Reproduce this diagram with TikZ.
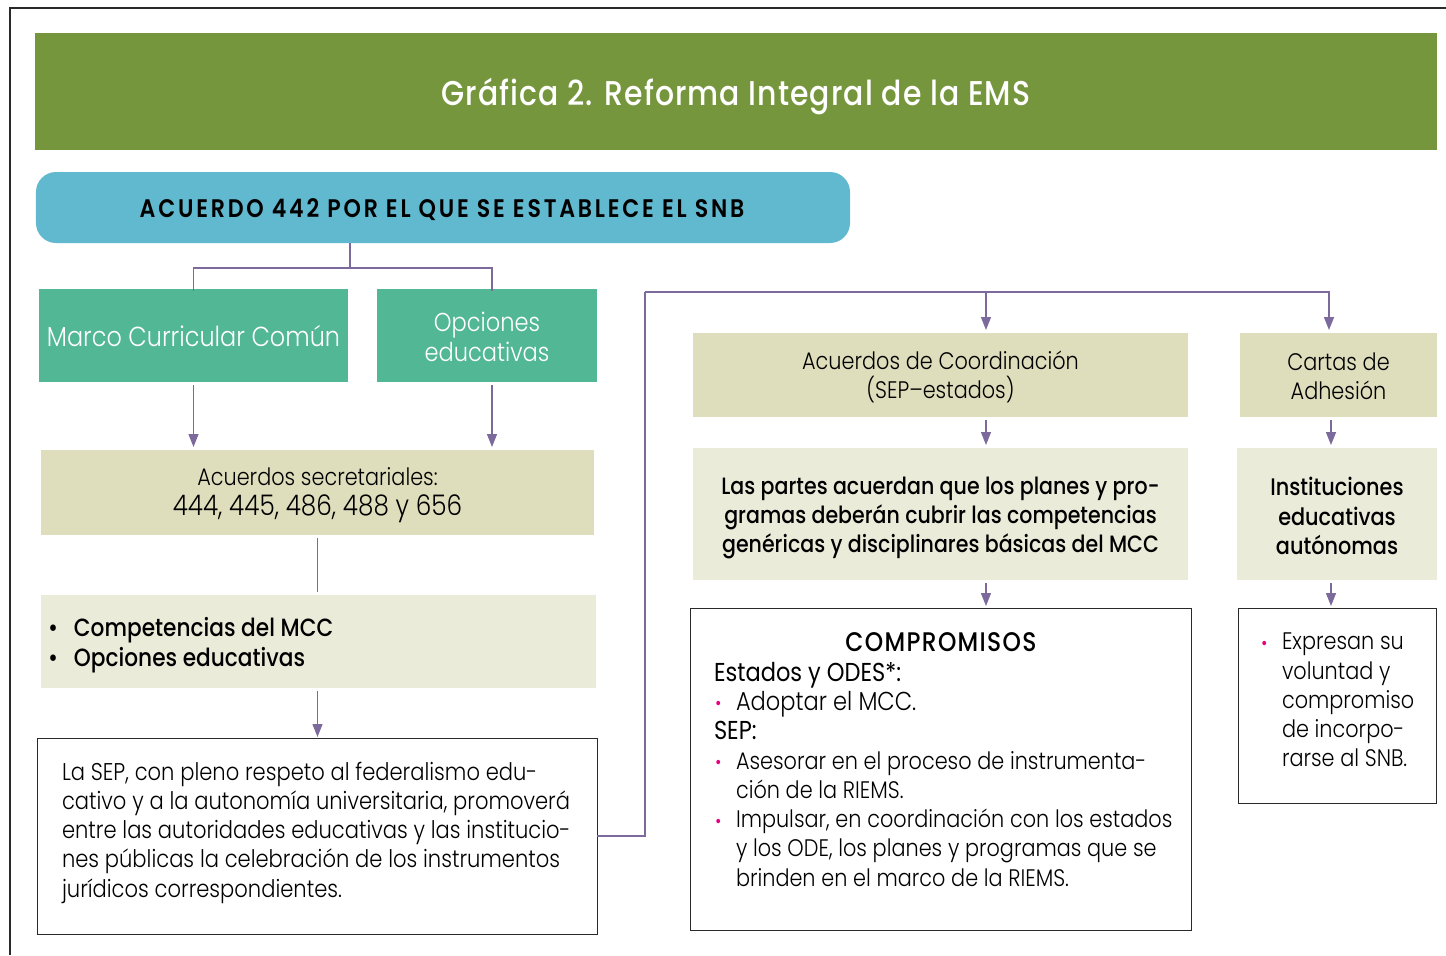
\documentclass[tikz,border=0pt]{standalone}
\usepackage{fontspec}
\usetikzlibrary{arrows.meta}
\IfFontExistsTF{Poppins Light}{%
  \setmainfont{Poppins Light}[FakeStretch=0.87, BoldFont={Poppins Medium}]%
}{%
  \setmainfont{Poppins}[FakeStretch=0.87]%
}
\IfFontExistsTF{Poppins SemiBold}{%
  \newfontfamily\semib{Poppins SemiBold}[FakeStretch=0.87, LetterSpace=11]%
}{%
  \newfontfamily\semib{Poppins}[FakeStretch=0.87, LetterSpace=11]%
}
\IfFontExistsTF{Poppins Medium}{%
  \newfontfamily\medf{Poppins Medium}[FakeStretch=0.87]%
  \newfontfamily\medsp{Poppins Medium}[FakeStretch=0.87, LetterSpace=3]%
  \newfontfamily\medspb{Poppins Medium}[FakeStretch=0.87, LetterSpace=5]%
}{%
  \newfontfamily\medf{Poppins}[FakeStretch=0.87]%
  \newfontfamily\medsp{Poppins}[FakeStretch=0.87, LetterSpace=3]%
  \newfontfamily\medspb{Poppins}[FakeStretch=0.87, LetterSpace=5]%
}
\newfontfamily\regf{Poppins}[FakeStretch=0.87]
\definecolor{olivebar}{HTML}{76963E}
\definecolor{bluebox}{HTML}{61B9D0}
\definecolor{tealbox}{HTML}{52B795}
\definecolor{khaki}{HTML}{DEDEBD}
\definecolor{paleb}{HTML}{EBEBDA}
\definecolor{purp}{HTML}{7C6A9C}
\definecolor{mag}{HTML}{E6007E}
\definecolor{frame}{HTML}{2A2A2A}
\newcommand{\fsz}[2]{\fontsize{#1}{#2}\selectfont}
\newcommand{\mb}{\makebox[22bp][l]{\hspace{1bp}\raisebox{0.5bp}{\textcolor{mag}{\regf\fsz{18}{18}•}}}}
\begin{document}
\begin{tikzpicture}[x=1bp,y=-1bp,
  box/.style={inner sep=0pt, outer sep=0pt},
  conn/.style={draw=purp, line width=1.3bp},
  arr/.style={conn, -{Triangle[width=10bp,length=13bp]}},
  wbox/.style={box, draw=frame, line width=1bp, fill=white},
  lbl/.style={inner sep=0pt, outer sep=0pt, text=black}]
\useasboundingbox (0,0) rectangle (1446,955);
\fill[white] (0,0) rectangle (1446,955);
\draw[frame, line width=1.2bp] (10,955) -- (10,8) -- (1446,8);

% title
\node[box, fill=olivebar, minimum width=1402bp, minimum height=117bp] (title) at (736,91.5) {};
\node[lbl, anchor=base, text=white, font=\medsp\fsz{34.5}{38}] (titlet) at (736,105) {Gráfica 2. Reforma Integral de la EMS};

% acuerdo
\node[box, fill=bluebox, rounded corners=20bp, minimum width=814bp, minimum height=71bp] (acuerdo) at (443,207.5) {};
\node[lbl, anchor=base, font=\semib\fsz{25.5}{26}] (acuerdot) at (442,217) {ACUERDO 442 POR EL QUE SE ESTABLECE EL SNB};

% green boxes
\node[box, fill=tealbox, minimum width=309bp, minimum height=93bp] (mcc) at (193.5,335.5) {};
\node[lbl, text=white, font=\fsz{27.6}{30}] (mcct) at ([yshift=-1bp]mcc.center) {Marco Curricular Común};
\node[box, fill=tealbox, minimum width=220bp, minimum height=93bp] (opc) at (487,335.5) {};
\node[lbl, text=white, align=center, font=\fsz{26}{30}] (opct) at ([yshift=-1bp]opc.center) {Opciones\\educativas};

% acuerdos secretariales
\node[box, fill=khaki, minimum width=553bp, minimum height=85bp] (acsec) at (317.5,492.5) {};
\node[lbl, align=center, font=\fsz{24}{30}] (acsect) at ([yshift=-3bp]acsec.center) {Acuerdos secretariales:\\{\fsz{28.5}{30}444, 445, 486, 488 y 656}};

% competencias
\node[box, fill=paleb, minimum width=555bp, minimum height=93bp] (comp) at (318.5,641.5) {};
\node[lbl, anchor=north west, align=left, font=\bfseries\fsz{25}{30}] (compt) at (48,617) {\makebox[26bp][l]{•}Competencias del MCC\\\makebox[26bp][l]{•}Opciones educativas};

% SEP text box
\node[wbox, minimum width=559bp, minimum height=196bp] (sep) at (317.5,836) {};
\node[lbl, anchor=north west, align=left, font=\fsz{24.3}{29.3}] (sept) at (62,762) {La SEP, con pleno respeto al federalismo edu-\\cativo y a la autonomía universitaria, promoverá\\entre las autoridades educativas y las institucio-\\nes públicas la celebración de los instrumentos\\jurídicos correspondientes.};

% right column
\node[box, fill=khaki, minimum width=495bp, minimum height=84bp] (coord) at (940.5,375) {};
\node[lbl, align=center, font=\fsz{24}{29.5}] (coordt) at ([yshift=-2bp]coord.center) {Acuerdos de Coordinación\\(SEP–estados)};
\node[box, fill=khaki, minimum width=197bp, minimum height=84bp] (cartas) at (1338.5,375) {};
\node[lbl, align=center, font=\fsz{24}{29.5}] (cartast) at ([yshift=-1bp]cartas.center) {Cartas de\\Adhesión};
\node[box, fill=paleb, minimum width=495bp, minimum height=132bp] (partes) at (940.5,514) {};
\node[lbl, align=center, font=\bfseries\fsz{23.7}{29.5}] (partest) at ([yshift=-4bp]partes.center) {Las partes acuerdan que los planes y pro-\\gramas deberán cubrir las competencias\\genéricas y disciplinares básicas del MCC};
\node[box, fill=paleb, minimum width=200bp, minimum height=132bp] (inst) at (1337,514) {};
\node[lbl, align=center, font=\bfseries\fsz{24}{29.5}] (instt) at ([yshift=-2bp]inst.center) {Instituciones\\educativas\\autónomas};

\node[wbox, minimum width=501bp, minimum height=322bp] (compro) at (940.5,769) {};
\node[lbl, anchor=base, font=\medspb\fsz{27}{30}] (comprot) at (941,651) {COMPROMISOS};
\node[lbl, anchor=north west, align=left, font=\fsz{24}{29.4}] (comprol) at (714,662) {{\regf\fsz{26}{29.4}Estados y ODES*:}\\\mb{\fsz{26}{29.4}Adoptar el MCC.}\\{\regf\fsz{26}{29.4}SEP:}\\\mb Asesorar en el proceso de instrumenta-\\\hspace*{22bp}ción de la RIEMS.\\\mb Impulsar, en coordinación con los estados\\\hspace*{22bp}y los ODE, los planes y programas que se\\\hspace*{22bp}brinden en el marco de la RIEMS.};

\node[wbox, minimum width=198bp, minimum height=195bp] (expr) at (1337,705.5) {};
\node[lbl, anchor=north west, align=left, font=\fsz{24}{29.4}] (exprt) at (1260,633) {\mb Expresan su\\\hspace*{22bp}voluntad y\\\hspace*{22bp}compromiso\\\hspace*{22bp}de incorpo-\\\hspace*{22bp}rarse al SNB.};

% connectors
\coordinate (j) at (350,268);
\draw[conn] (acuerdo.south -| j) -- (j);
\draw[conn] ([yshift=-2bp]mcc.north) |- (j) -| ([xshift=5bp,yshift=-2bp]opc.north);

\draw[arr, shorten <=3bp, shorten >=3bp] (mcc.south) -- (mcc.south |- acsec.north);
\draw[arr, shorten <=3bp, shorten >=3bp] ([xshift=5bp]opc.south) -- ([xshift=5bp]opc.south |- acsec.north);
\draw[conn, shorten <=3bp, shorten >=3bp] (acsec.south) -- (acsec.south |- comp.north);
\draw[arr, shorten <=3bp, shorten >=1bp] (acsec.south |- comp.south) -- (acsec.south |- sep.north);

\coordinate (t) at (645,292);
\draw[conn] (sep.east) -| (t);
\draw[arr, shorten >=3bp] (t) -| ([xshift=-9.5bp]cartas.north);
\draw[arr, shorten >=3bp] ([xshift=45.5bp]coord.north |- t) -- ([xshift=45.5bp]coord.north);
\draw[arr, shorten <=3bp, shorten >=3bp] ([xshift=45.5bp]coord.south) -- ([xshift=45.5bp]coord.south |- partes.north);
\draw[arr, shorten <=3bp, shorten >=2bp] ([xshift=45.5bp]partes.south) -- ([xshift=45.5bp]partes.south |- compro.north);
\draw[arr, shorten <=3bp, shorten >=3bp] ([xshift=-7.5bp]cartas.south) -- ([xshift=-7.5bp]cartas.south |- inst.north);
\draw[arr, shorten <=3bp, shorten >=2bp] ([xshift=-6bp]inst.south) -- ([xshift=-6bp]inst.south |- expr.north);
\end{tikzpicture}
\end{document}
